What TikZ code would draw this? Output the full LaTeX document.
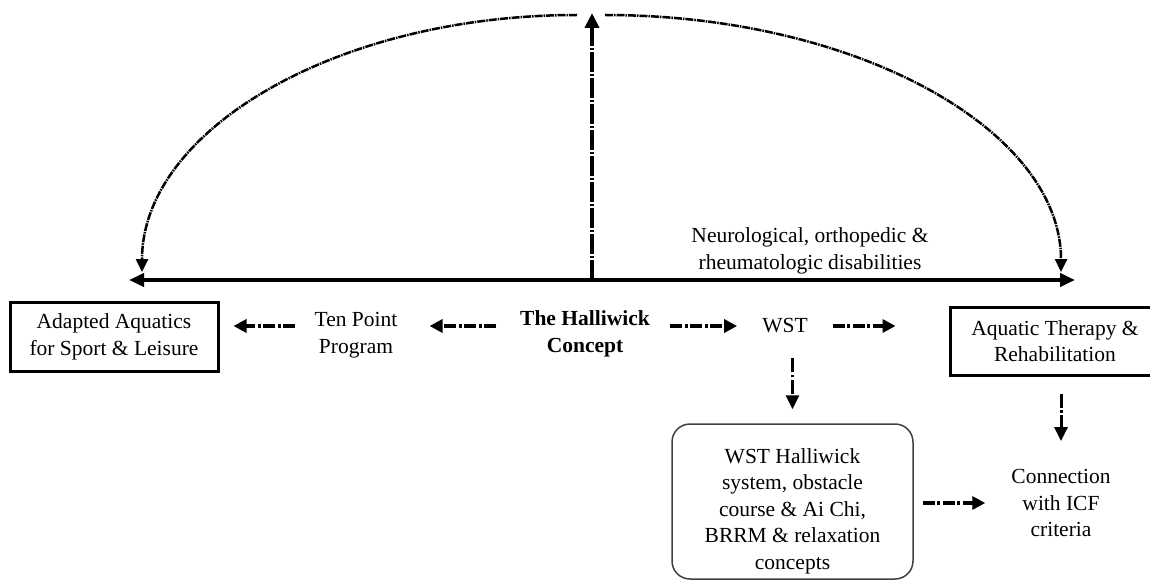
\documentclass[tikz,border=0pt]{standalone}
\usepackage{fontspec}
\setmainfont{Liberation Serif}
\usetikzlibrary{arrows.meta,calc}
\begin{document}
\begin{tikzpicture}[x=1pt,y=-1pt,
  txt/.style={inner sep=0pt, align=center, font=\fontsize{21.5}{26.5}\selectfont},
  sqbox/.style={txt, draw, line width=3pt},
  rbox/.style={draw=black!75, line width=1.5pt, rounded corners=18pt},
  harr/.style={line width=3.5pt, dash pattern=on 12pt off 2.5pt on 3pt off 2.5pt, -{Triangle[length=13pt,width=13pt]}},
  varr/.style={line width=3pt, dash pattern=on 14pt off 2.5pt on 2.5pt off 2.5pt, -{Triangle[length=14pt,width=13pt]}},
  bigarr/.style={line width=4.5pt, dash pattern=on 20pt off 2pt on 2pt off 2pt, -{Triangle[length=15pt,width=14pt]}},
  mainline/.style={line width=4pt, {Triangle[length=15pt,width=13pt]}-{Triangle[length=15pt,width=13pt]}},
  arcline/.style={line width=2.5pt, dash pattern=on 8pt off 1pt on 1.5pt off 1pt, -{Triangle[length=13pt,width=12pt]}}
]
\useasboundingbox (0,0) rectangle (1150,580);
\clip (0,0) rectangle (1150,580);

% main horizontal line and vertical arrow
\coordinate (L) at (129,280);
\coordinate (R) at (1075,280);
\coordinate (V) at (592,280);
\coordinate (T) at (592,13);
\coordinate (AL) at (577,15);
\coordinate (AR) at (605,15);
\draw[mainline] (L) -- (R);
\draw[bigarr] (V) -- (T);
\draw[arcline] (AL) arc[start angle=90, end angle=180, x radius=435pt, y radius=257pt];
\draw[arcline] (AR) arc[start angle=90, end angle=0, x radius=456pt, y radius=257pt];

\node[txt] (neuro) at (810,251) {Neurological, orthopedic \&\\rheumatologic disabilities};

% middle row
\node[sqbox, minimum width=208pt, minimum height=69pt] (adapted) at (114,337) {Adapted Aquatics\\for Sport \& Leisure};
\node[txt] (ten) at (356,335) {Ten Point\\Program};
\node[txt, font=\fontsize{21.5}{26.5}\selectfont\bfseries] (halli) at (585,334) {The Halliwick\\Concept};
\node[txt] (wst) at (785,326) {WST};
\node[sqbox, minimum width=210pt, minimum height=68pt] (aq) at (1055,341) {Aquatic Therapy \&\\Rehabilitation};

\draw[harr, shorten <=19pt, shorten >=14pt] (ten.west |- wst.center) -- (adapted.east |- wst.center);
\draw[harr, shorten <=24pt, shorten >=32pt] (halli.west |- wst.center) -- (ten.east |- wst.center);
\draw[harr, shorten <=20pt, shorten >=25pt] (halli.east |- wst.center) -- (wst.west);
\draw[harr, shorten <=25pt, shorten >=53pt] (wst.east) -- (aq.west |- wst.center);

% bottom row
\node[rbox, minimum width=241pt, minimum height=155pt] (wstbox) at (792.5,501.5) {};
\node[txt] (wsttxt) at (792.5,511) {WST Halliwick\\system, obstacle\\course \& Ai Chi,\\BRRM \& relaxation\\concepts};
\node[txt] (conn) at (1061,503) {Connection\\with ICF\\criteria};

\draw[varr, shorten <=25pt, shorten >=14pt] (wst.south -| wstbox.north) -- (wstbox.north);
\draw[varr, shorten <=17pt, shorten >=28pt] (aq.south -| conn.north) -- (conn.north);
\draw[harr, shorten <=9pt, shorten >=26pt] (wstbox.east |- conn.center) -- (conn.west);
\end{tikzpicture}
\end{document}
